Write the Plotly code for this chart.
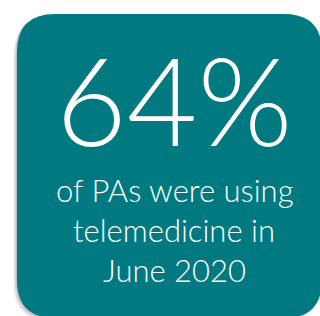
import plotly.graph_objects as go

# Content
headline_value = "64%"
caption_lines = ["of PAs were using", "telemedicine in", "June 2020"]

W, H = 320, 316
TEAL = "#007A80"
FONT = "Lato"


def rounded_rect(x0, y0, x1, y1, r):
    return (f"M {x0+r},{y0} L {x1-r},{y0} Q {x1},{y0} {x1},{y0+r} "
            f"L {x1},{y1-r} Q {x1},{y1} {x1-r},{y1} L {x0+r},{y1} "
            f"Q {x0},{y1} {x0},{y1-r} L {x0},{y0+r} Q {x0},{y0} {x0+r},{y0} Z")


fig = go.Figure()
fig.add_trace(go.Scatter(x=[0], y=[0], mode="markers", marker=dict(opacity=0), hoverinfo="skip", showlegend=False))

shapes = []
# soft shadow (left / bottom)
for i, a in enumerate([0.04, 0.06, 0.08, 0.10]):
    d = 4 - i
    shapes.append(dict(type="path", xref="x", yref="y",
                       path=rounded_rect(17 - d, 14 + d, 322 - d, 318 + d, 38),
                       fillcolor=f"rgba(0,0,0,{a})", line=dict(width=0), layer="below"))
shapes.append(dict(type="path", xref="x", yref="y",
                   path=rounded_rect(17, 14, 322, 318, 38),
                   fillcolor=TEAL, line=dict(width=0), layer="below"))

annotations = [dict(x=174, y=99, xref="x", yref="y", text=headline_value, showarrow=False,
                    font=dict(family=FONT, size=122, color="white", weight=300),
                    xanchor="center", yanchor="middle")]
for i, line in enumerate(caption_lines):
    annotations.append(dict(x=174, y=190 + 40 * i, xref="x", yref="y", text=line, showarrow=False,
                            font=dict(family=FONT, size=31, color="white", weight=300),
                            xanchor="center", yanchor="middle"))

fig.update_layout(width=W, height=H, margin=dict(l=0, r=0, t=0, b=0),
                  paper_bgcolor="white", plot_bgcolor="white",
                  xaxis=dict(range=[0, W], visible=False, fixedrange=True),
                  yaxis=dict(range=[H, 0], visible=False, fixedrange=True),
                  shapes=shapes, annotations=annotations, showlegend=False)
fig.write_html("out.html", config={"displayModeBar": False},
               post_script="document.body.style.margin='0';document.body.style.overflow='hidden';")
